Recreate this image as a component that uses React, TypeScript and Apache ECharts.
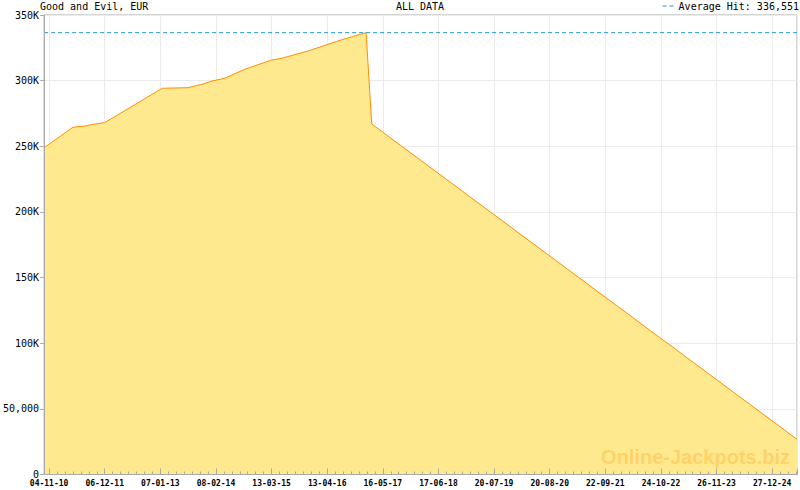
import React, { useEffect, useRef } from "react";
import * as echarts from "echarts";

// x positions are in minor-tick periods; 98 = 04-11-10, 7 periods per labelled tick
const xLabels = [
  "04-11-10", "06-12-11", "07-01-13", "08-02-14", "13-03-15", "13-04-16", "16-05-17",
  "17-06-18", "20-07-19", "20-08-20", "22-09-21", "24-10-22", "26-11-23", "27-12-24",
];
const xFirstLabel = 98;
const xStart = 97.375;
const xEnd = 192.125;
const xPos = [97.375, 101.0, 102.5, 103.5, 105.0, 112.25, 115.4, 117.25, 118.5, 120.1, 122.6, 126.0, 127.25, 130.6, 134.75, 137.9, 138.6, 192.125];
const jackpot = [248900, 264500, 265400, 266700, 268000, 294200, 294600, 297200, 299700, 301800, 308600, 315700, 317000, 322600, 331000, 336551, 267000, 26800];
const averageHit = 336551;
const averageName = "Average Hit: 336,551";

const MONO = "'DejaVu Sans Mono', monospace";
const AXIS_GRAY = "#aaaaaa";
const GRID_GRAY = "#ebebeb";

export default function App() {
  const ref = useRef<HTMLDivElement>(null);
  useEffect(() => {
    if (!ref.current) return;
    const chart = echarts.init(ref.current, null, { renderer: "svg" });
    const yFormatter = (v: number) => {
      if (v === 0) return "0";
      if (v === 50000) return "50,000";
      return v / 1000 + "K";
    };
    chart.setOption({
      animation: false,
      backgroundColor: "#ffffff",
      title: [
        {
          text: "Good and Evil, EUR",
          left: 40,
          top: 1,
          padding: 0,
          textStyle: { fontFamily: MONO, fontSize: 10, fontWeight: "normal", color: "#000" },
        },
        {
          text: "ALL DATA",
          left: 420,
          top: 1,
          padding: 0,
          textAlign: "center",
          textStyle: { fontFamily: MONO, fontSize: 10, fontWeight: "normal", color: "#000" },
        },
      ],
      legend: {
        data: [{ name: averageName, icon: "path://M0,0H4V1H0Z M7,0H11V1H7Z" }],
        right: 1,
        top: 1,
        padding: 0,
        itemWidth: 11,
        itemHeight: 1,
        itemGap: 5,
        textStyle: { fontFamily: MONO, fontSize: 10, color: "#000" },
      },
      grid: {
        left: 41,
        right: 1,
        top: 15,
        bottom: 15.5,
        show: true,
        borderColor: AXIS_GRAY,
        borderWidth: 1,
        backgroundColor: "transparent",
      },
      xAxis: [
        {
          // minor ticks + axis line, drawn above the area
          type: "value",
          min: xStart,
          max: xEnd,
          minInterval: 1,
          maxInterval: 1,
          z: 10,
          axisLine: { show: true, onZero: false, lineStyle: { color: AXIS_GRAY, width: 1 } },
          axisTick: { show: true, inside: true, length: 3, lineStyle: { color: AXIS_GRAY } },
          axisLabel: { show: false },
          splitLine: { show: false },
        },
        {
          // major ticks + labels, drawn above the area
          type: "value",
          min: xStart,
          max: xEnd,
          minInterval: 7,
          maxInterval: 7,
          position: "bottom",
          z: 10,
          axisLine: { show: false, onZero: false },
          axisTick: { show: true, inside: true, length: 6, lineStyle: { color: AXIS_GRAY } },
          axisLabel: {
            show: true,
            interval: 0,
            margin: 5,
            fontFamily: MONO,
            fontSize: 8,
            fontWeight: "bold",
            color: "#000",
            formatter: (v: number) => {
              const k = (v - xFirstLabel) / 7;
              if (!Number.isInteger(k)) return "";
              return xLabels[k] ?? "";
            },
          },
          splitLine: { show: false },
        },
        {
          // vertical grid lines behind the area
          type: "value",
          min: xStart,
          max: xEnd,
          minInterval: 7,
          maxInterval: 7,
          position: "bottom",
          z: 0,
          axisLine: { show: false, onZero: false },
          axisTick: { show: false },
          axisLabel: { show: false },
          splitLine: { show: true, lineStyle: { color: GRID_GRAY, width: 1 } },
        },
      ],
      yAxis: [
        {
          type: "value",
          position: "left",
          min: 0,
          max: 350000,
          interval: 50000,
          z: 10,
          axisLine: { show: true, onZero: false, lineStyle: { color: AXIS_GRAY, width: 1 } },
          axisTick: { show: true, length: 4, lineStyle: { color: AXIS_GRAY } },
          axisLabel: {
            margin: 5,
            fontFamily: MONO,
            fontSize: 10,
            color: "#000",
            formatter: yFormatter,
          },
          splitLine: { show: false },
        },
        {
          type: "value",
          position: "left",
          min: 0,
          max: 350000,
          interval: 50000,
          z: 0,
          axisLine: { show: false, onZero: false },
          axisTick: { show: false },
          axisLabel: { show: false },
          splitLine: { show: true, lineStyle: { color: GRID_GRAY, width: 1 } },
        },
      ],
      graphic: [
        {
          type: "text",
          right: 10,
          top: 447,
          z: 100,
          style: {
            text: "Online-Jackpots.biz",
            font: "bold 20px 'Liberation Sans', Arial, sans-serif",
            fill: "rgba(255,176,50,0.42)",
          },
        },
      ],
      series: [
        {
          name: "Jackpot",
          type: "line",
          xAxisIndex: 0,
          yAxisIndex: 0,
          data: xPos.map((x, i) => [x, jackpot[i]]),
          symbol: "none",
          lineStyle: { color: "#ff8c00", width: 1 },
          itemStyle: { color: "#ff8c00" },
          areaStyle: { color: "#ffe98f", opacity: 1 },
          z: 2,
        },
        {
          name: averageName,
          type: "line",
          xAxisIndex: 0,
          yAxisIndex: 0,
          data: [
            [xStart, averageHit],
            [xEnd, averageHit],
          ],
          symbol: "none",
          lineStyle: { color: "#2196d3", width: 1, type: [4, 3] },
          itemStyle: { color: "#2196d3" },
          z: 3,
        },
      ],
    });
    return () => chart.dispose();
  }, []);
  return (
    <div
      ref={ref}
      style={{ position: "fixed", left: 0, top: 0, width: 800, height: 490 }}
    />
  );
}
